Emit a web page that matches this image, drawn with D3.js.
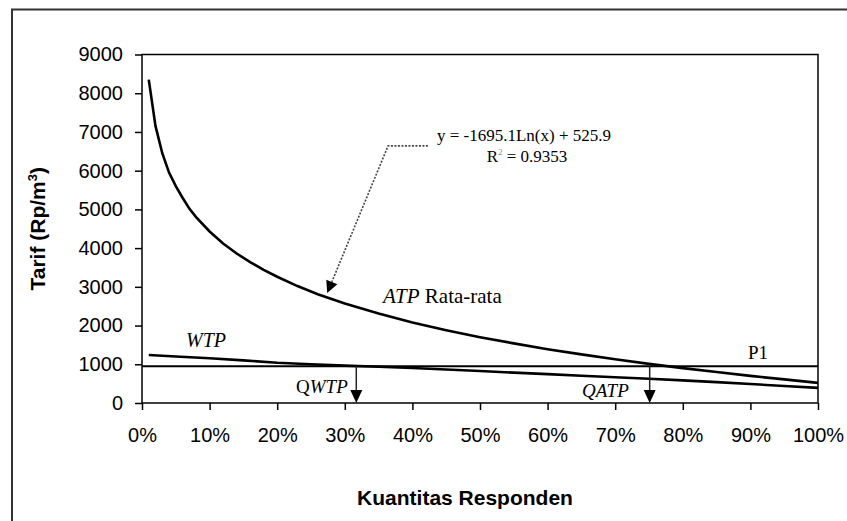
<!DOCTYPE html>
<html>
<head>
<meta charset="utf-8">
<script src="https://cdn.jsdelivr.net/npm/d3@7"></script>
<style>
  html, body { margin: 0; padding: 0; background: #fff; }
  svg { display: block; }
</style>
</head>
<body>
<svg id="chart" width="847" height="521"></svg>
<script>
// ---- data ----
const xTicks = [0, 0.1, 0.2, 0.3, 0.4, 0.5, 0.6, 0.7, 0.8, 0.9, 1.0];
const yTicks = [0, 1000, 2000, 3000, 4000, 5000, 6000, 7000, 8000, 9000];

const atpX = [0.01, 0.02, 0.03, 0.04, 0.05, 0.06, 0.07, 0.08, 0.10, 0.12, 0.14, 0.16, 0.18, 0.20, 0.23, 0.26, 0.30, 0.35, 0.40, 0.45, 0.50, 0.55, 0.60, 0.65, 0.70, 0.75, 0.80, 0.85, 0.90, 0.95, 1.00];
const atpY = [8350, 7150, 6450, 5950, 5600, 5300, 5020, 4800, 4430, 4120, 3860, 3640, 3440, 3260, 3020, 2810, 2570, 2310, 2080, 1880, 1700, 1540, 1390, 1255, 1130, 1010, 900, 800, 700, 610, 520];

const wtpX = [0.01, 0.05, 0.10, 0.15, 0.20, 0.25, 0.30, 0.35, 0.40, 0.45, 0.50, 0.55, 0.60, 0.65, 0.70, 0.75, 0.80, 0.85, 0.90, 0.95, 1.00];
const wtpY = [1240, 1200, 1155, 1100, 1040, 1000, 965, 935, 905, 865, 825, 785, 745, 705, 665, 625, 585, 540, 490, 440, 390];

const p1Value = 950;          // horizontal price line P1
const qWTP = 0.317;           // QWTP position
const qATP = 0.751;           // QATP position

const eqText = "y = -1695.1Ln(x) + 525.9";
const r2Value = "0.9353";

// ---- layout ----
const svg = d3.select("#chart");
const mLeft = 142, mRight = 818, mTop = 54.5, mBottom = 403;

const x = d3.scaleLinear().domain([0, 1]).range([mLeft, mRight]);
const y = d3.scaleLinear().domain([0, 9000]).range([mBottom, mTop]);

// outer frame (cut by the picture edges on right and bottom)
svg.append("rect")
  .attr("x", 12).attr("y", 9.5).attr("width", 900).attr("height", 600)
  .attr("fill", "none").attr("stroke", "#333").attr("stroke-width", 2);

// plot area border
svg.append("rect")
  .attr("x", mLeft).attr("y", mTop).attr("width", mRight - mLeft).attr("height", mBottom - mTop)
  .attr("fill", "none").attr("stroke", "#000").attr("stroke-width", 1.5);

const sansFont = "'Liberation Sans', Arial, sans-serif";
const serifFont = "'Liberation Serif', 'Times New Roman', serif";

// y axis
const gy = svg.append("g").attr("transform", `translate(${mLeft},0)`)
  .call(d3.axisLeft(y).tickValues(yTicks).tickSize(7).tickPadding(12).tickFormat(d3.format("d")));
gy.select(".domain").remove();
gy.selectAll(".tick line").attr("stroke", "#000").attr("stroke-width", 1.5);
gy.selectAll(".tick text").attr("font-family", sansFont).attr("font-size", 20).attr("fill", "#000");

// x axis
const gx = svg.append("g").attr("transform", `translate(0,${mBottom})`)
  .call(d3.axisBottom(x).tickValues(xTicks).tickSize(7).tickFormat(d3.format(".0%")));
gx.select(".domain").remove();
gx.selectAll(".tick line").attr("stroke", "#000").attr("stroke-width", 1.5);
gx.selectAll(".tick text").attr("font-family", sansFont).attr("font-size", 20).attr("fill", "#000")
  .attr("y", 39).attr("dy", 0);

// axis titles
const yt = svg.append("text")
  .attr("transform", `translate(45,${(mTop + mBottom) / 2}) rotate(-90)`)
  .attr("text-anchor", "middle").attr("font-family", sansFont).attr("font-weight", "bold")
  .attr("font-size", 21).attr("fill", "#000");
yt.append("tspan").text("Tarif (Rp/m");
yt.append("tspan").attr("dy", -8).attr("font-size", 13).text("3");
yt.append("tspan").attr("dy", 8).text(")");

svg.append("text")
  .attr("x", 465).attr("y", 505).attr("text-anchor", "middle")
  .attr("font-family", sansFont).attr("font-weight", "bold").attr("font-size", 21).attr("fill", "#000")
  .text("Kuantitas Responden");

// P1 line
svg.append("line")
  .attr("x1", x(0)).attr("x2", x(1)).attr("y1", y(p1Value)).attr("y2", y(p1Value))
  .attr("stroke", "#000").attr("stroke-width", 2);

// series lines
const line = d3.line().x(d => x(d[0])).y(d => y(d[1]));
svg.append("path").datum(atpX.map((v, i) => [v, atpY[i]]))
  .attr("d", line).attr("fill", "none").attr("stroke", "#000").attr("stroke-width", 2.6);
svg.append("path").datum(wtpX.map((v, i) => [v, wtpY[i]]))
  .attr("d", line).attr("fill", "none").attr("stroke", "#000").attr("stroke-width", 2.6);

// down arrows QWTP / QATP
function downArrow(q) {
  const xp = x(q), y0 = y(p1Value), y1 = y(0);
  svg.append("line").attr("x1", xp).attr("x2", xp).attr("y1", y0).attr("y2", y1 - 10)
    .attr("stroke", "#222").attr("stroke-width", 1.5);
  svg.append("path")
    .attr("d", `M${xp - 6},${y1 - 13} L${xp + 6},${y1 - 13} L${xp},${y1} Z`)
    .attr("fill", "#000");
}
downArrow(qWTP);
downArrow(qATP);

// leader line from equation to ATP curve (dotted)
const ldStart = [0.423, 6640], ldCorner = [0.364, 6640], ldTip = [0.274, 2840];
const p0 = [x(ldStart[0]), y(ldStart[1])], p1 = [x(ldCorner[0]), y(ldCorner[1])], p2 = [x(ldTip[0]), y(ldTip[1])];
const ang = Math.atan2(p2[1] - p1[1], p2[0] - p1[0]);
const headLen = 12, headW = 6;
const base = [p2[0] - headLen * Math.cos(ang), p2[1] - headLen * Math.sin(ang)];
svg.append("path")
  .attr("d", `M${p0[0]},${p0[1]} L${p1[0]},${p1[1]} L${base[0]},${base[1]}`)
  .attr("fill", "none").attr("stroke", "#444").attr("stroke-width", 1.6).attr("stroke-dasharray", "2,1.5");
svg.append("path")
  .attr("d", `M${p2[0]},${p2[1]} L${base[0] + headW * Math.sin(ang)},${base[1] - headW * Math.cos(ang)} L${base[0] - headW * Math.sin(ang)},${base[1] + headW * Math.cos(ang)} Z`)
  .attr("fill", "#000");

// equation and R²
svg.append("text").attr("x", 524).attr("y", 141).attr("text-anchor", "middle")
  .attr("font-family", serifFont).attr("font-size", 17).attr("fill", "#000").text(eqText);
const r2 = svg.append("text").attr("x", 527).attr("y", 162).attr("text-anchor", "middle")
  .attr("font-family", serifFont).attr("font-size", 17).attr("fill", "#000");
r2.append("tspan").text("R");
r2.append("tspan").attr("dy", -7).attr("font-size", 9).attr("fill", "#888").text("2");
r2.append("tspan").attr("dy", 7).text(" = " + r2Value);

// series labels
function label(xp, yp, parts, size) {
  const t = svg.append("text").attr("x", xp).attr("y", yp)
    .attr("font-family", serifFont).attr("font-size", size).attr("fill", "#000");
  parts.forEach(p => t.append("tspan").attr("font-style", p[1] ? "italic" : "normal").text(p[0]));
}
label(383, 303, [["ATP", true], [" Rata-rata", false]], 21);
label(186, 347, [["WTP", true]], 20);
label(296, 393, [["Q", false], ["WTP", true]], 19);
label(582, 397, [["QATP", true]], 19);
label(748, 359, [["P1", false]], 19);
</script>
</body>
</html>
